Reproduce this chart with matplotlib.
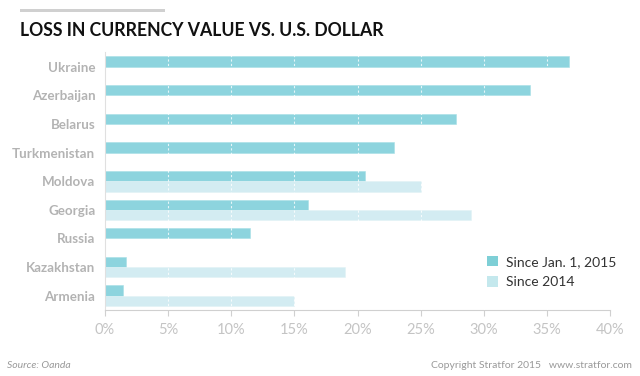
import matplotlib
matplotlib.use("Agg")
import matplotlib.pyplot as plt
from matplotlib.patches import Patch, Rectangle
import numpy as np

countries = ["Ukraine", "Azerbaijan", "Belarus", "Turkmenistan", "Moldova",
             "Georgia", "Russia", "Kazakhstan", "Armenia"]
since_2015 = [36.75, 33.7, 27.8, 22.9, 20.6, 16.1, 11.5, 1.66, 1.45]
since_2014 = [0, 0, 0, 0, 25.0, 29.0, 0, 19.0, 15.0]
xticks = [0, 5, 10, 15, 20, 25, 30, 35, 40]
xtick_labels = ["0%", "5%", "10%", "15%", "20%", "25%", "30%", "35%", "40%"]

c2015 = "#8dd4de"
c2014 = "#d3ecf2"

fig = plt.figure(figsize=(6.4, 3.76), dpi=100)
ax = fig.add_axes([105/640, 1-310/376, 505/640, (310-52.4)/376])

y = np.arange(len(countries))
h = 0.36
ax.barh(y - h/2, since_2015, height=h, color=c2015, edgecolor="#a8dfe6", linewidth=0.4, zorder=2)
ax.barh(y + h/2, since_2014, height=h, color=c2014, edgecolor="#e2f3f6", linewidth=0.4, zorder=2)

ax.set_ylim(len(countries) - 0.5, -0.5)
ax.set_xlim(0, 40)
ax.set_yticks(y)
ax.set_yticklabels(countries, fontfamily="Lato", fontweight="bold", fontsize=9.6, color="#b3b3b3")
ax.set_xticks(xticks)
ax.set_xticklabels(xtick_labels, fontfamily="Lato", fontsize=10.5, color="#c4c4c4")
ax.tick_params(axis="y", length=0, pad=7)
ax.tick_params(axis="x", length=4, color="#d0d0d0", pad=5)

for x in xticks[1:]:
    ax.axvline(x, color="white", lw=0.8, ls=(0, (2, 2)), alpha=0.8, zorder=3)

for s in ["top", "right"]:
    ax.spines[s].set_visible(False)
ax.spines["left"].set_color("#e0e0e0")
ax.spines["bottom"].set_color("#d0d0d0")

handles = [Patch(facecolor="#7ecfd6", edgecolor="none"), Patch(facecolor="#c4e8ed", edgecolor="none")]
leg = ax.legend(handles, ["Since Jan. 1, 2015", "Since 2014"], loc="lower left",
                bbox_to_anchor=(0.731, 0.035), frameon=False, handlelength=0.8, handleheight=0.8,
                handletextpad=0.6, labelspacing=0.6, prop={"family": "Lato", "size": 10})
for t in leg.get_texts():
    t.set_color("#333333")

fig.patches.append(Rectangle((20/640, 1-12/376), 145/640, 3/376, transform=fig.transFigure,
                             facecolor="#d0d0d0", edgecolor="none"))
fig.text(20/640, 1-30/376, "LOSS IN CURRENCY VALUE VS. U.S. DOLLAR", fontfamily="Lato",
         fontweight="bold", fontsize=12.7, color="#111111", va="center", ha="left")

fig.text(7/640, 1-366/376, "Source: Oanda", fontfamily="Lato", fontstyle="italic",
         fontsize=7.5, color="#999999", va="center", ha="left")
fig.text(632/640, 1-366/376, "Copyright Stratfor 2015   www.stratfor.com", fontfamily="Lato",
         fontsize=7.5, color="#999999", va="center", ha="right")

fig.savefig("out.png", dpi=100, facecolor="white")
